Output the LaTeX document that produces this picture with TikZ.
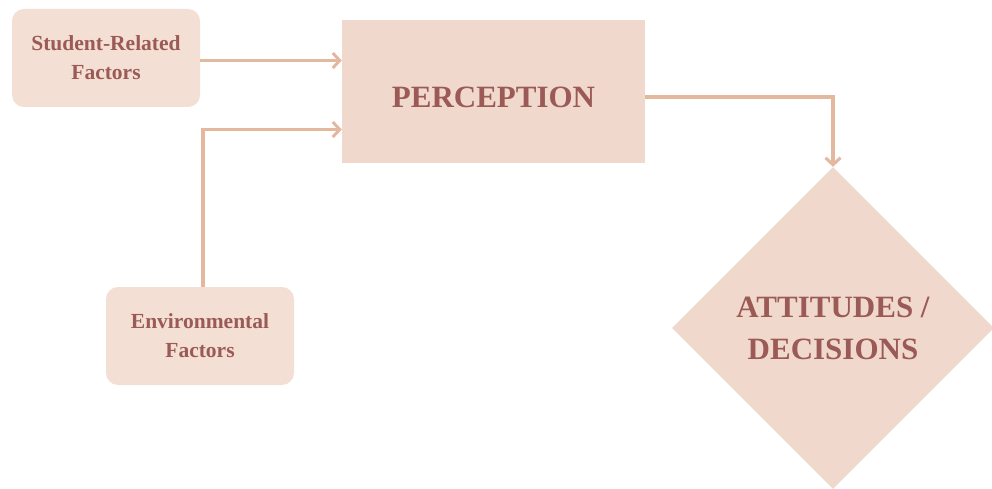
\documentclass[tikz,border=0pt]{standalone}
\usepackage{fontspec}
\setmainfont{Liberation Serif}
\usetikzlibrary{shapes.geometric,arrows.meta}
\definecolor{boxfill}{HTML}{F3DFD3}
\definecolor{mainfill}{HTML}{F0D9CC}
\definecolor{txt}{HTML}{9B5A55}
\definecolor{arr}{HTML}{E4B79F}
\begin{document}
\begin{tikzpicture}[x=1pt,y=-1pt,
  smallbox/.style={draw=none,fill=boxfill,rounded corners=12pt,minimum width=188pt,minimum height=98pt,inner sep=0pt,align=center,text=txt,font=\bfseries\fontsize{21.5}{29}\selectfont},
  bigbox/.style={draw=none,fill=mainfill,minimum width=303pt,minimum height=143pt,inner sep=0pt},
  bigtext/.style={text=txt,font=\bfseries\fontsize{31}{42}\selectfont,align=center},
  decbox/.style={diamond,draw=none,fill=mainfill,minimum width=322pt,minimum height=322pt,inner sep=0pt,align=center,text=txt,font=\bfseries\fontsize{31}{42}\selectfont},
  conn/.style={draw=arr,line width=3.4pt,-{Straight Barb[length=7pt,width=15pt,line width=3pt]}}]
\useasboundingbox (0,0) rectangle (992,489);
\node[smallbox] (srf) at (106,58) {Student-Related\\Factors};
\node[smallbox] (env) at (200,336) {Environmental\\Factors};
\node[bigbox,label={[bigtext,yshift=-6pt]center:PERCEPTION}] (per) at (493.5,91.5) {};
\node[decbox] (dec) at (833,328) {ATTITUDES /\\DECISIONS};
\coordinate (e1) at (203,129.5);
\coordinate (p1) at (833,97);
\draw[conn] (srf.east |- 0,60.5) -- (per.west |- 0,60.5);
\draw[conn] (env.north -| e1) -- (e1) -- (per.west |- e1);
\draw[conn] (per.east |- p1) -- (p1) -- (dec.north);
\end{tikzpicture}
\end{document}
